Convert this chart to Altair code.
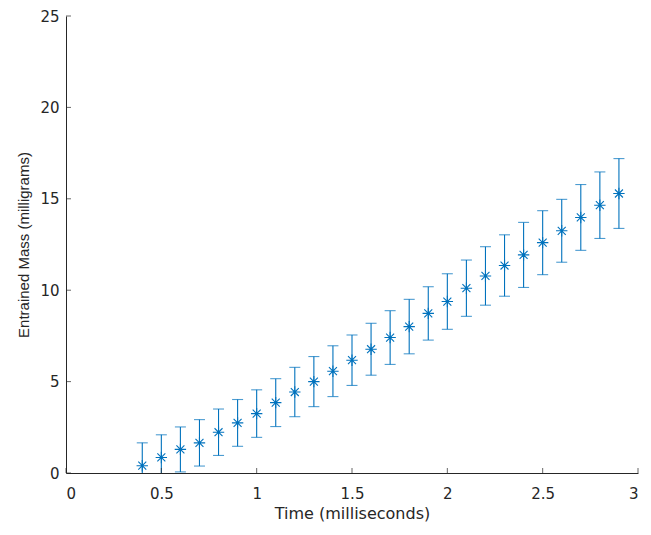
import altair as alt
import pandas as pd

# Data
time = [0.4, 0.5, 0.6, 0.7, 0.8, 0.9, 1.0, 1.1, 1.2, 1.3, 1.4, 1.5, 1.6,
        1.7, 1.8, 1.9, 2.0, 2.1, 2.2, 2.3, 2.4, 2.5, 2.6, 2.7, 2.8, 2.9]
mass = [0.40, 0.85, 1.29, 1.65, 2.23, 2.74, 3.25, 3.85, 4.43, 5.00, 5.57, 6.17, 6.77,
        7.41, 8.01, 8.73, 9.38, 10.11, 10.78, 11.35, 11.93, 12.60, 13.25, 13.98, 14.65, 15.29]
err = [1.25, 1.24, 1.23, 1.27, 1.27, 1.28, 1.30, 1.31, 1.35, 1.37, 1.39, 1.38, 1.42,
       1.47, 1.49, 1.46, 1.52, 1.54, 1.60, 1.68, 1.78, 1.75, 1.72, 1.80, 1.82, 1.91]

x_ticks = [0, 0.5, 1, 1.5, 2, 2.5, 3]
y_ticks = [0, 5, 10, 15, 20, 25]

x_title = "Time (milliseconds)"
y_title = "Entrained Mass (milligrams)"

df = pd.DataFrame({"time": time, "mass": mass, "err": err})
df["lo"] = df["mass"] - df["err"]
df["hi"] = df["mass"] + df["err"]

W, H = 572, 457
BLUE = "#0072BD"
DARK = "#262626"

xscale = alt.Scale(domain=[0, 3], nice=False, zero=False)
yscale = alt.Scale(domain=[0, 25], nice=False)
xaxis = alt.Axis(values=x_ticks, format="~g", ticks=False, labelPadding=13,
                 labelFont="DejaVu Sans", labelFontSize=15,
                 titleFont="DejaVu Sans", titleFontSize=16, titlePadding=4,
                 grid=False)
yaxis = alt.Axis(values=y_ticks, format="~g", ticks=False, labelPadding=7,
                 labelFont="DejaVu Sans", labelFontSize=15,
                 titleFont="Liberation Sans", titleFontSize=15, titlePadding=8,
                 grid=False)


def X(field):
    return alt.X(f"{field}:Q", scale=xscale, axis=xaxis, title=x_title)


def Y(field):
    return alt.Y(f"{field}:Q", scale=yscale, axis=yaxis, title=y_title)


base = alt.Chart(df)

bars = base.mark_rule(color=BLUE, strokeWidth=1.1, clip=True).encode(
    x=X("time"), y=Y("lo"), y2="hi:Q")
caps_lo = base.mark_tick(color=BLUE, orient="horizontal", size=11, thickness=1.1,
                         clip=True).encode(x=X("time"), y=Y("lo"))
caps_hi = base.mark_tick(color=BLUE, orient="horizontal", size=11, thickness=1.1,
                         clip=True).encode(x=X("time"), y=Y("hi"))

star = "M-1,0L1,0M0,-1L0,1M-0.7,-0.7L0.7,0.7M-0.7,0.7L0.7,-0.7"
points = base.mark_point(shape=star, size=130, filled=False, color=BLUE,
                         strokeWidth=1.1, opacity=1).encode(x=X("time"), y=Y("mass"))

xt = alt.Chart(pd.DataFrame({"time": x_ticks})).mark_tick(
    color=DARK, orient="vertical", size=5, thickness=1).encode(
    x=X("time"), y=alt.value(H - 2.5))
yt = alt.Chart(pd.DataFrame({"mass": y_ticks})).mark_tick(
    color=DARK, orient="horizontal", size=5, thickness=1).encode(
    y=Y("mass"), x=alt.value(2.5))

chart = alt.layer(bars, caps_lo, caps_hi, points, xt, yt).properties(
    width=W, height=H,
    autosize=alt.AutoSizeParams(type="none"),
    padding={"left": 58, "top": 8, "right": 5, "bottom": 50},
).configure_view(stroke=None).configure_axis(
    domainColor=DARK, domainWidth=1,
    labelColor=DARK, titleColor=DARK,
    titleFontWeight="normal",
)

chart.save("out.html", embed_options={"renderer": "svg", "actions": False})
